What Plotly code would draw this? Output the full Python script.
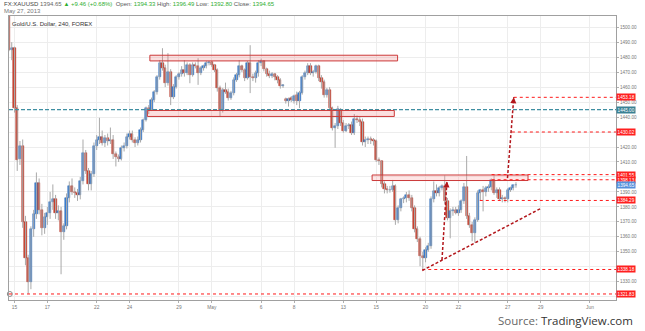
import numpy as np
import pandas as pd
import plotly.graph_objects as go

# ---------------- data (4h candles, FX:XAUUSD) ----------------
opens = [1512,1484.5,1486,1446,1412,1421,1370,1346,1330,1365,1375,1396,1378,1366,1373,1376,1383,1385,1376,1377,
         1363,1367,1386,1394,1390,1389,1388,1397,1416,1404,1395,1402,1421,1425,1427,1423,1426,1424,1425,1415,
         1413,1412,1419.5,1421,1427,1428.5,1425,1423,1424.5,1431.5,1438,1446,1445,1451.5,1457,1467,1476,1473,1462.7,1470,
         1453.5,1460.4,1467,1469,1471.5,1469.3,1475,1468.2,1475,1473.8,1469.3,1472.6,1473.8,1476,1476.5,1474.5,1471.5,1459.3,1445,1458,
         1457,1452.7,1456,1465,1468,1473.8,1471.5,1466,1476.4,1467,1466,1469.5,1476,1477.5,1472,1469,1467.5,1468.5,1466.5,1464.5,
         1461,1452,1451,1452.5,1451,1454.9,1450.4,1456,1467,1469.3,1473.8,1469.3,1470,1473.8,1466,1463.7,1455,1458,1446,1433,
         1434,1445,1436,1431,1434,1435,1429.5,1439,1438,1437,1423.5,1425,1425.5,1424.5,1424,1411.5,1410.5,1395.5,1392,1391,
         1391.5,1394.2,1371,1379,1385,1385.8,1388,1386,1379,1365,1358.5,1347,1346,1351.5,1354,1385,1390.5,1389,1392.5,1393.8,
         1384,1372.6,1377,1378,1376,1378,1383.7,1393.3,1374,1368,1362.7,1371.5,1389.3,1391,1390,1392.5,1393,1397.7,1389.3,1391.5,
         1385.6,1386.2,1385.19,1391.5,1392.5,1394.33]
highs = [1516,1490,1487,1448,1424,1425,1374,1348,1367,1378,1403,1399,1382,1376,1380,1390,1395,1388,1381,1380,
         1369,1389,1397,1399,1393,1392,1400,1425,1418,1406,1404,1423,1428,1439.5,1431,1428,1429,1433,1428,1417,
         1415,1421,1423,1429,1431,1431,1426.5,1427,1433,1439,1447,1448,1453,1458,1468,1478,1486,1475,1482.7,1472,
         1462,1468,1470,1474,1478,1476.5,1476,1476.5,1476.5,1479.3,1474,1475,1477.5,1477.5,1477,1475.5,1472.5,1461,1459.5,1463,
         1459,1457.5,1466.5,1469.5,1478,1475,1472.5,1477.5,1488,1469,1471,1478,1479,1478,1473,1471,1470,1469.5,1468,1466,
         1462,1453,1453,1454,1455,1457,1457.5,1468,1471,1476,1476,1471.5,1475,1475,1468,1465,1459.5,1460,1447,1436,
         1447.5,1446,1438,1436,1436,1437,1442,1441,1440,1439,1427,1427,1427,1426,1425,1413,1411,1397,1394,1394,
         1398,1395,1381,1386,1387,1390,1391,1388,1381,1367,1360,1350,1353,1356,1387,1397,1395,1394,1395,1401,
         1386,1379,1380,1380,1381,1385,1396,1414,1376,1370,1373,1391,1392,1394,1394,1395,1399,1401,1393,1393,
         1388,1387,1392.5,1393.5,1394.5,1396.49]
lows = [1484,1478,1443,1404,1408,1366,1341,1322,1325,1360,1372,1375,1361,1362,1368,1372,1378,1372,1371,1335,
        1358,1365,1383,1388,1386,1384,1385,1395,1402,1391,1391,1400,1418,1422,1421,1420,1421,1422,1412,1407,
        1410,1411,1417,1419,1425,1423,1420,1421,1423,1430,1437,1442,1444,1450,1455,1465,1471,1460,1461,1448,
        1452,1459,1465,1467,1467,1468,1462.6,1467,1472.5,1461.5,1468,1471,1472.5,1474.5,1473.5,1470,1457,1440.4,1443,1455.5,
        1451,1451.5,1454.5,1463.5,1466.5,1470,1464,1465,1456,1464,1463,1467,1474,1470.5,1467,1466,1466,1464.5,1462.5,1459,
        1459.5,1449,1447,1450,1449,1448,1446,1455,1465,1468,1468,1467,1469,1464,1459,1453,1453,1444,1431,1419.5,
        1432,1434,1429.5,1430,1432,1428,1428,1436,1434,1421,1420,1422,1422,1421,1410,1408,1393,1389,1389,1389.5,
        1390,1368,1369,1377,1382.5,1383,1384,1377,1363,1356.5,1340.4,1338.18,1343,1350,1352,1383,1387,1387,1391,1382,
        1371,1359,1374,1375,1374,1376,1382,1372,1366,1357,1356,1370,1384,1377,1387,1390,1391,1388,1386,1384,
        1383,1383,1383,1390,1391,1392.80]
closes = [1485,1486,1446,1411,1421,1370,1346,1330,1365,1375,1396,1378,1366,1373,1376,1383,1385,1376,1377,1363,
          1367,1386,1394,1390,1389,1388,1397,1416,1404,1395,1402,1421,1425,1427,1423,1426,1424,1425,1415,1413,
          1412,1419.5,1421,1427,1428.5,1425,1423,1424.5,1431.5,1438,1446,1445,1451.5,1457,1467,1476,1473,1462.7,1470,1453.5,
          1460.4,1467,1469,1471.5,1469.3,1475,1468.2,1475,1473.8,1469.3,1472.6,1473.8,1476,1476.5,1474.5,1471.5,1459.3,1445,1458,1457,
          1452.7,1456,1465,1468,1473.8,1471.5,1466,1476.4,1467,1466,1469.5,1476,1477.5,1472,1469,1467.5,1468.5,1466.5,1464.5,1461,
          1461.3,1451,1452,1451.5,1453.8,1450.4,1456,1467,1469.3,1473.8,1469.3,1470,1473.8,1466,1463.7,1455,1458,1446,1433,1434,
          1445.5,1436,1431,1434,1435,1429.5,1439,1438,1437,1423.5,1425,1425.5,1424.5,1424,1411.5,1410.5,1395.5,1392,1391,1391.5,
          1394.2,1371,1379,1385,1385.8,1388,1386,1379,1365,1358.5,1347,1346,1351.5,1354,1385,1390.5,1389,1392.5,1393.8,1384,
          1372.6,1377,1378,1376,1378,1383.7,1393.3,1374,1368,1362.7,1371.5,1389.3,1391,1390,1392.5,1393,1397.7,1389.3,1391.5,1385.6,
          1386.2,1385.19,1391.5,1392.5,1394.33,1394.65]

tick_dates = ['2013-04-15', '2013-04-17', '2013-04-22', '2013-04-24', '2013-04-29', '2013-05-01',
              '2013-05-06', '2013-05-08', '2013-05-13', '2013-05-15', '2013-05-20', '2013-05-22',
              '2013-05-27', '2013-05-29', '2013-06-03']
tick_text = ['15', '17', '22', '24', '29', 'May', '6', '8', '13', '15', '20', '22', '27', '29', 'Jun']

# drawing annotations (in candle-index / price units)
zone_x0 = [51.4, 50.5, 132.5]
zone_x1 = [141.8, 140.6, 189.4]
zone_y0 = [1477.5, 1440.4, 1397.6]
zone_y1 = [1481.3, 1444.4, 1401.3]

level_prices = [1453.18, 1430.02, 1401.55, 1398.13, 1384.29, 1338.18, 1321.83]
level_starts = [184.2, 183.5, 176.1, 176.1, 171.8, 150.8, 0.0]
teal_level = 1445.00
last_price = 1394.65

trend_line = [(150.8, 1337.5), (194.1, 1379.0)]
arrow_legs = [[(158.0, 1344.5), (159.8, 1397.0)], [(181.9, 1399.3), (184.2, 1453.2)]]

# ---------------- build ----------------
N = len(closes)
times = pd.date_range('2013-04-12 16:00', periods=N * 2, freq='4h')
times = times[times.weekday < 5][:N]
xs = np.arange(N)
first_idx = int(np.where(times >= pd.Timestamp('2013-04-15'))[0][0])
tick_vals = [first_idx + 6 * int(np.busday_count('2013-04-15', d)) for d in tick_dates]

up_fill, up_line = '#3b7fd4', '#2460ad'
dn_fill, dn_line = '#cf4531', '#a8261a'
body_base = [min(o, c) for o, c in zip(opens, closes)]
body_h = [max(abs(c - o), 0.35) for o, c in zip(opens, closes)]
fills = [up_fill if c >= o else dn_fill for o, c in zip(opens, closes)]
lines = [up_line if c >= o else dn_line for o, c in zip(opens, closes)]

wx, wy = [], []
for k, h, l in zip(xs, highs, lows):
    wx += [k, k, None]
    wy += [l, h, None]

fig = go.Figure()
fig.add_trace(go.Scatter(x=wx, y=wy, mode='lines', line=dict(color='#a9a9a9', width=1),
                         hoverinfo='skip', showlegend=False))
fig.add_trace(go.Bar(x=xs, y=body_h, base=body_base, width=0.8,
                     marker=dict(color=fills, line=dict(color=lines, width=0.5)),
                     showlegend=False, hoverinfo='skip'))
fig.add_trace(go.Scatter(x=[0.3], y=[level_prices[-1]], mode='markers',
                         marker=dict(symbol='circle-open', size=5, color='#8a8a8a', line=dict(width=1)),
                         cliponaxis=False, showlegend=False, hoverinfo='skip'))

XR = [0.0, 221.5]
YR = [1317.8, 1507.5]

shapes = []
# teal dashed level
shapes.append(dict(type='line', xref='x', yref='y', x0=XR[0], x1=XR[1], y0=teal_level, y1=teal_level,
                   line=dict(color='#3f8fa2', width=1.2, dash='4px,2px'), layer='above'))
# zones
for i in range(len(zone_x0)):
    fc = 'rgba(235,110,110,0.22)' if i < 2 else 'rgba(255,150,150,0.25)'
    shapes.append(dict(type='rect', xref='x', yref='y', x0=zone_x0[i], x1=zone_x1[i],
                       y0=zone_y0[i], y1=zone_y1[i], line=dict(color='#cc3a3a', width=1),
                       fillcolor=fc, layer='above'))
# dotted red levels
for p, s in zip(level_prices, level_starts):
    shapes.append(dict(type='line', xref='x', yref='y', x0=s, x1=XR[1], y0=p, y1=p,
                       line=dict(color='#ff1a1a', width=1, dash='dot'), layer='above'))
# trend line
shapes.append(dict(type='line', xref='x', yref='y', x0=trend_line[0][0], y0=trend_line[0][1],
                   x1=trend_line[1][0], y1=trend_line[1][1],
                   line=dict(color='#b3161b', width=1.5, dash='3px,2px'), layer='above'))
annotations = []
for (t, h) in arrow_legs:
    shapes.append(dict(type='line', xref='x', yref='y', x0=t[0], y0=t[1], x1=h[0], y1=h[1],
                       line=dict(color='#b3161b', width=1.5, dash='3px,2px'), layer='above'))
    annotations.append(dict(x=h[0], y=h[1], ax=h[0] - 0.05 * (h[0] - t[0]), ay=h[1] - 0.05 * (h[1] - t[1]),
                            xref='x', yref='y', axref='x', ayref='y', text='', showarrow=True,
                            arrowhead=2, arrowsize=1, arrowwidth=1.2, arrowcolor='#b3161b'))

# right-axis price tags
tag_font = dict(family='Liberation Sans', size=4.6, color='white')
tags = [(p, '#ff1f1f') for p in level_prices] + [(teal_level, '#3a8194'), (last_price, '#5590dc')]
for p, col in tags:
    annotations.append(dict(xref='paper', yref='y', x=1.0, y=p, xanchor='left', yanchor='middle',
                            text='%.2f' % p, showarrow=False, bgcolor=col, font=tag_font,
                            borderpad=0.6))

# y ticks: every 10; labels that sit under a price tag are covered (left blank)
y_ticks = list(range(1320, 1510, 10))
tag_prices = [p for p, _ in tags]
y_text = ['' if any(abs(v - p) < 2.6 for p in tag_prices) else '%.2f' % v for v in y_ticks]

W, H = 645, 331
L, R, T, B = 8, 22, 16, 31
pw, ph = W - L - R, H - T - B


def px(xp):
    return (xp - L) / pw


def py(yp):
    return (H - B - yp) / ph


g = '#2fae2f'
header = ('<span style="color:#444">FX:XAUUSD </span><span style="color:#666">1394.65 </span>'
          '<span style="color:%s">▲ +9.46 (+0.68%%)</span>'
          '<span style="color:#555">  Open: </span><span style="color:%s">1394.33</span>'
          '<span style="color:#555"> High: </span><span style="color:%s">1396.49</span>'
          '<span style="color:#555"> Low: </span><span style="color:%s">1392.80</span>'
          '<span style="color:#555"> Close: </span><span style="color:%s">1394.65</span>') % (g, g, g, g, g)
annotations.append(dict(xref='paper', yref='paper', x=px(1), y=py(4), xanchor='left', yanchor='middle',
                        text=header, showarrow=False, font=dict(family='Liberation Sans', size=6)))
annotations.append(dict(xref='paper', yref='paper', x=px(1), y=py(11), xanchor='left', yanchor='middle',
                        text='May 27, 2013', showarrow=False,
                        font=dict(family='Liberation Sans', size=6, color='#777')))
annotations.append(dict(xref='paper', yref='paper', x=px(9), y=py(24), xanchor='left', yanchor='middle',
                        text='Gold/U.S. Dollar, 240, FOREX', showarrow=False,
                        font=dict(family='Liberation Sans', size=6, color='#333')))
annotations.append(dict(xref='paper', yref='paper', x=px(642), y=py(320), xanchor='right', yanchor='middle',
                        text='<span style="color:#666">Source: </span><span style="color:#333">TradingView.com</span>',
                        showarrow=False, font=dict(family='Open Sans', size=11.5)))

fig.update_layout(
    width=W, height=H, margin=dict(l=L, r=R, t=T, b=B),
    paper_bgcolor='white', plot_bgcolor='white',
    shapes=shapes, annotations=annotations, showlegend=False, bargap=0,
    xaxis=dict(range=XR, tickvals=tick_vals, ticktext=tick_text, showgrid=True, gridcolor='#ededed',
               gridwidth=1, zeroline=False, showline=True, linecolor='#a0a0a0', linewidth=1, mirror=True,
               ticks='outside', ticklen=2, tickcolor='#b0b0b0',
               tickfont=dict(family='Liberation Sans', size=4.8, color='#777'), fixedrange=True),
    yaxis=dict(range=YR, side='right', tickvals=y_ticks, ticktext=y_text, showgrid=True,
               gridcolor='#ededed', gridwidth=1, zeroline=False, showline=True, linecolor='#a0a0a0',
               linewidth=1, mirror=True, ticks='outside', ticklen=2, tickcolor='#b0b0b0',
               tickfont=dict(family='Liberation Sans', size=4.6, color='#777'), fixedrange=True),
)

fig.write_html('out.html')
